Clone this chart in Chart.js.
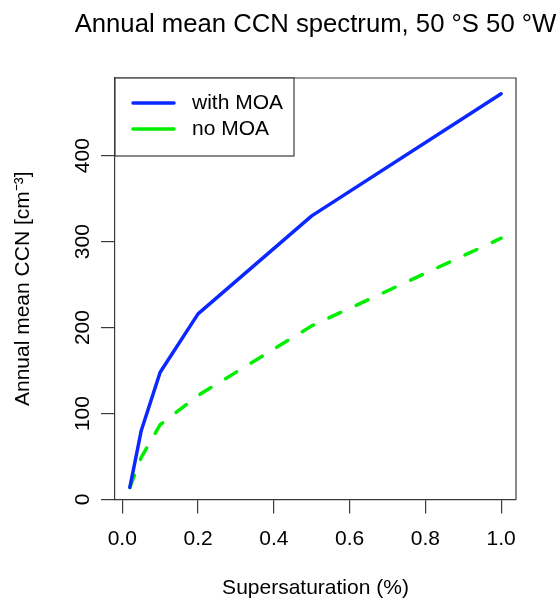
<!DOCTYPE html>
<html lang="en">
<head>
    <meta charset="UTF-8">
    <title>Annual mean CCN spectrum</title>
    <script src="https://cdn.jsdelivr.net/npm/chart.js"></script>
    <style>
        html, body { margin: 0; padding: 0; background: #fff; }
        #chart-container { width: 557px; height: 603px; }
    </style>
</head>
<body>
    <div id="chart-container">
        <canvas id="ccnChart" width="557" height="603"></canvas>
    </div>
    <script>
        // supersaturation (%) and annual mean CCN (cm^-3)
        const supersat = [0.02, 0.05, 0.1, 0.2, 0.5, 1.0];
        const withMOA = [14, 80, 148, 216, 330, 472];
        const noMOA = [14, 49, 87, 121, 202, 304];
        const seriesNames = ["with MOA", "no MOA"];
        const xTicks = [0, 0.2, 0.4, 0.6, 0.8, 1.0];
        const yTicks = [0, 100, 200, 300, 400];
        const chartTitle = "Annual mean CCN spectrum, 50 °S 50 °W";

        const FONT = "'Liberation Sans', Arial, sans-serif";
        const AXIS = "#3a3a3a";
        const BLUE = "#0a28ff";
        const GREEN = "#00ee00";

        const toPoints = ys => supersat.map((x, i) => ({ x, y: ys[i] }));

        // R style box, title over the plot region, legend in the top left corner
        const boxAndLegend = {
            id: "boxAndLegend",
            afterDraw(chart) {
                const { ctx, chartArea: a } = chart;
                ctx.save();
                ctx.strokeStyle = AXIS;
                ctx.lineWidth = 1.2;
                ctx.beginPath();
                ctx.moveTo(a.left, a.top);
                ctx.lineTo(a.right, a.top);
                ctx.lineTo(a.right, a.bottom);
                ctx.stroke();

                // title is centred on the plot region, like R's main=
                ctx.fillStyle = "#000";
                ctx.font = "25.7px " + FONT;
                ctx.textAlign = "center";
                ctx.textBaseline = "middle";
                ctx.fillText(chartTitle, (a.left + a.right) / 2, 24.5);

                const lw = 179, lh = 78;
                ctx.fillStyle = "#fff";
                ctx.fillRect(a.left, a.top, lw, lh);
                ctx.strokeRect(a.left, a.top, lw, lh);

                const colors = [BLUE, GREEN];
                ctx.font = "21px " + FONT;
                ctx.textBaseline = "middle";
                ctx.textAlign = "left";
                seriesNames.forEach((name, i) => {
                    const y = a.top + 25 + i * 26;
                    ctx.strokeStyle = colors[i];
                    ctx.lineWidth = 3.5;
                    ctx.lineCap = "round";
                    ctx.beginPath();
                    ctx.moveTo(a.left + 18, y);
                    ctx.lineTo(a.left + 59, y);
                    ctx.stroke();
                    ctx.fillStyle = "#000";
                    ctx.fillText(name, a.left + 77, y);
                });
                ctx.restore();
            }
        };

        new Chart(document.getElementById("ccnChart"), {
            type: "line",
            data: {
                datasets: [{
                    label: seriesNames[0],
                    data: toPoints(withMOA),
                    borderColor: BLUE,
                    borderWidth: 3.5,
                    borderCapStyle: "round",
                    borderJoinStyle: "round",
                    pointRadius: 0,
                    tension: 0,
                    fill: false
                }, {
                    label: seriesNames[1],
                    data: toPoints(noMOA),
                    borderColor: GREEN,
                    borderWidth: 3.5,
                    borderDash: [13, 17],
                    borderCapStyle: "round",
                    borderJoinStyle: "round",
                    pointRadius: 0,
                    tension: 0,
                    fill: false
                }]
            },
            options: {
                responsive: false,
                animation: false,
                devicePixelRatio: 1,
                layout: { padding: { left: 0, right: 41, top: 78, bottom: 0 } },
                plugins: {
                    legend: { display: false },
                    tooltip: { enabled: false },
                    title: { display: false }
                },
                scales: {
                    x: {
                        type: "linear",
                        min: -0.0192,
                        max: 1.0392,
                        afterFit: s => { s.height = 103.5; },
                        afterBuildTicks: s => { s.ticks = xTicks.map(value => ({ value })); },
                        ticks: {
                            autoSkip: false,
                            maxRotation: 0,
                            padding: 13,
                            color: "#000",
                            font: { family: FONT, size: 21 },
                            callback: v => v.toFixed(1)
                        },
                        grid: { drawOnChartArea: false, tickLength: 14, color: AXIS, lineWidth: 1.2 },
                        border: { display: true, color: AXIS, width: 1.2 },
                        title: {
                            display: true,
                            text: "Supersaturation (%)",
                            color: "#000",
                            font: { family: FONT, size: 21 },
                            padding: { top: 0, bottom: 2.4 }
                        }
                    },
                    y: {
                        type: "linear",
                        min: 0,
                        max: 490.4,
                        afterFit: s => { s.width = 115; },
                        afterBuildTicks: s => { s.ticks = yTicks.map(value => ({ value })); },
                        ticks: {
                            autoSkip: false,
                            minRotation: 90,
                            maxRotation: 90,
                            crossAlign: "center",
                            padding: 0,
                            color: "#000",
                            font: { family: FONT, size: 21 }
                        },
                        grid: { drawOnChartArea: false, tickLength: 14, color: AXIS, lineWidth: 1.2 },
                        border: { display: true, color: AXIS, width: 1.2 },
                        title: {
                            display: true,
                            text: "Annual mean CCN [cm⁻³]",
                            color: "#000",
                            font: { family: FONT, size: 21 },
                            padding: { top: 10.4, bottom: 0 }
                        }
                    }
                }
            },
            plugins: [boxAndLegend]
        });
    </script>
</body>
</html>
